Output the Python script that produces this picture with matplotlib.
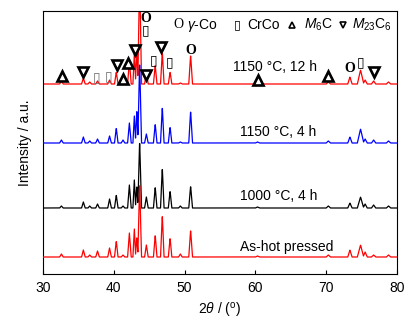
import numpy as np
import matplotlib
matplotlib.use('Agg')
import matplotlib.pyplot as plt

plt.rcParams['font.family'] = ['Liberation Sans', 'DejaVu Sans']
plt.rcParams['mathtext.fontset'] = 'custom'
plt.rcParams['mathtext.rm'] = 'Liberation Sans'
plt.rcParams['mathtext.it'] = 'Liberation Sans:italic'

# peak positions (2theta, deg) shared by all four patterns
peak_pos = [32.6, 35.7, 36.6, 37.7, 39.4, 40.35, 41.3, 42.2, 42.9, 43.25, 43.65,
            44.6, 45.85, 46.85, 47.95, 49.4, 50.85, 60.3, 70.3, 73.35, 74.85,
            75.5, 76.7, 78.8]
peak_w = [0.25, 0.25, 0.25, 0.25, 0.25, 0.25, 0.25, 0.25, 0.2, 0.2, 0.26,
          0.25, 0.25, 0.25, 0.25, 0.25, 0.26, 0.3, 0.3, 0.3, 0.45,
          0.3, 0.3, 0.3]

# peak heights
h_hot   = [3, 7, 2, 6, 9, 16, 2, 24, 28, 20, 74, 12, 22, 42, 19, 3, 27, 1, 2, 7, 12, 5, 2, 2]
h_1000  = [2, 6, 2, 4, 9, 13, 2, 23, 28, 22, 67, 11, 21, 40, 17, 2, 22, 1, 2, 5, 11, 4, 3, 2]
h_1150a = [3, 6, 2, 4, 7, 15, 3, 20, 27, 33, 81, 9, 19, 36, 16, 1, 32, 1, 2, 6, 14, 4, 3, 2]
h_1150b = [3, 6, 2, 3, 4, 12, 4, 23, 30, 34, 110, 11, 19, 32, 12, 1, 29, 2, 2, 7, 14, 4, 3, 2]

offsets = [17, 66, 131, 190]
colors = ['r', 'k', 'b', 'r']
labels = ['As-hot pressed', '1000 °C, 4 h', '1150 °C, 4 h', '1150 °C, 12 h']
label_x = [57.8, 57.8, 57.8, 56.8]
label_y = [27, 78, 142, 207]

# phase markers on the top pattern
m_gco = [(44.55, 256), (50.85, 224), (73.3, 206)]
m_crco = [(44.55, 244), (45.6, 214), (47.9, 212), (74.9, 212)]
m_crco_grey = [(37.6, 197), (39.2, 198)]
m_m6c = [(32.64, 198), (41.35, 195), (42.05, 211), (60.4, 194), (70.3, 198)]
m_m23 = [(35.7, 202), (40.5, 209), (43.0, 224), (44.55, 199), (46.6, 227), (76.8, 202)]

two_theta = np.arange(30, 80.001, 0.02)

def pattern(heights):
    y = np.zeros_like(two_theta)
    for c, w, h in zip(peak_pos, peak_w, heights):
        y = np.maximum(y, h * np.clip(1 - np.abs(two_theta - c) / w, 0, None))
    return y

fig = plt.figure(figsize=(4.17, 3.29), dpi=100)
ax = fig.add_axes([43/417, 55/329, 354/417, 263/329])

series = [h_hot, h_1000, h_1150a, h_1150b]
for i in [3, 2, 1, 0]:
    ax.plot(two_theta, pattern(series[i]) + offsets[i], color=colors[i], lw=0.9,
            zorder=5 - i)
    ax.text(label_x[i], label_y[i], labels[i], fontsize=10, va='center', ha='left')

for x, y in m_gco:
    ax.text(x, y, 'O', family='Liberation Serif', weight='bold', fontsize=10,
            ha='center', va='center', zorder=7)
for x, y in m_crco:
    ax.text(x, y, '▯', family='DejaVu Sans', fontsize=10, ha='center', va='center',
            zorder=7)
for x, y in m_crco_grey:
    ax.text(x, y, '▯', family='DejaVu Sans', fontsize=10, ha='center', va='center',
            color='0.45', zorder=7)
ax.plot([p[0] for p in m_m6c], [p[1] for p in m_m6c], '^', ms=6.5, mfc='white',
        mec='k', mew=1.9, ls='none', zorder=6)
ax.plot([p[0] for p in m_m23], [p[1] for p in m_m23], 'v', ms=6.5, mfc='white',
        mec='k', mew=1.9, ls='none', zorder=6)

# legend row
ly = 249
ax.text(49.1, ly, 'O', family='Liberation Serif', fontsize=10, ha='center', va='center')
ax.text(50.4, ly, r'$\gamma$-Co', fontsize=10, ha='left', va='center')
ax.text(57.4, ly, '▯', family='DejaVu Sans', fontsize=9, ha='center', va='center')
ax.text(58.8, ly, 'CrCo', fontsize=10, ha='left', va='center')
ax.plot([65.2], [ly], '^', ms=4.5, mfc='white', mec='k', mew=1.2)
ax.text(66.9, ly, r'$M_6$C', fontsize=10, ha='left', va='center')
ax.plot([72.4], [ly], 'v', ms=4.5, mfc='white', mec='k', mew=1.2)
ax.text(73.7, ly, r'$M_{23}$C$_6$', fontsize=10, ha='left', va='center')

ax.set_xlim(30, 80)
ax.set_ylim(0, 263)
ax.set_xticks([30, 40, 50, 60, 70, 80])
ax.set_yticks([])
ax.tick_params(axis='x', direction='in', length=3, labelsize=10, pad=5)
ax.set_xlabel(r'2$\theta$ / ($^{\mathrm{o}}$)', fontsize=10, labelpad=4)
ax.set_ylabel('Intensity / a.u.', fontsize=10, labelpad=8)

fig.savefig('out.png', dpi=100)
